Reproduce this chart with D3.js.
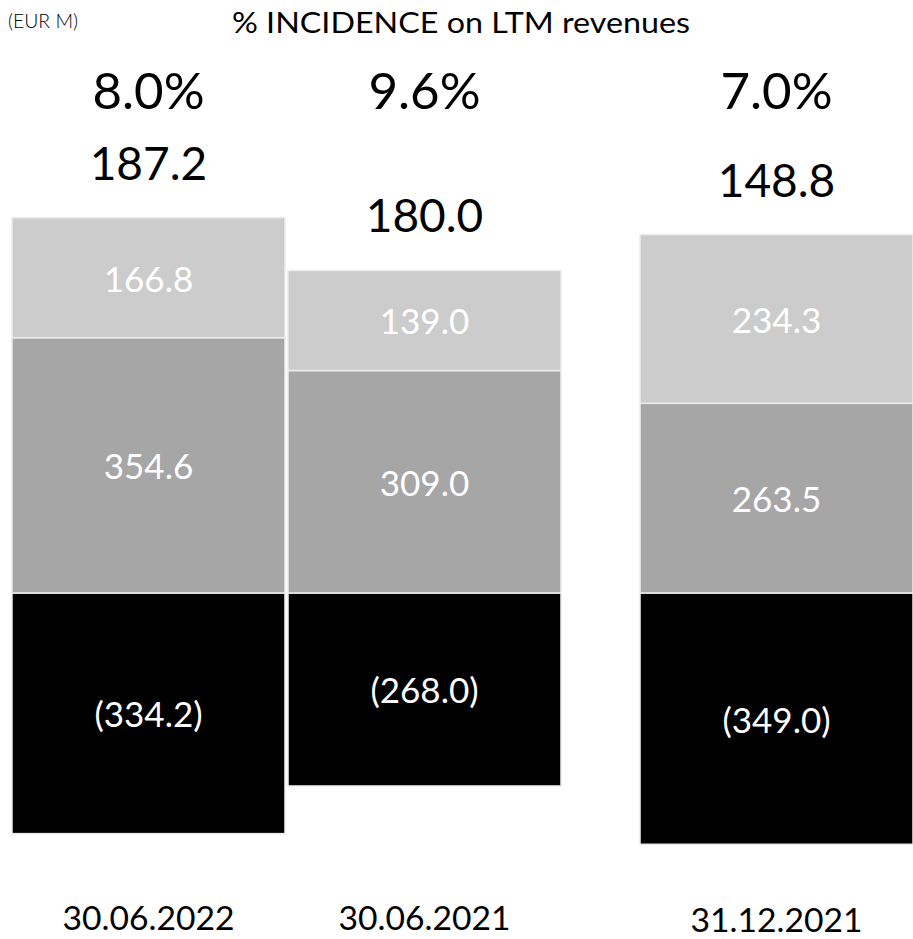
<!DOCTYPE html>
<html>
<head>
<meta charset="utf-8">
<script src="https://cdn.jsdelivr.net/npm/d3@7"></script>
<style>
  html, body { margin: 0; padding: 0; background: #ffffff; }
  svg { display: block; font-family: Lato, "Noto Sans", sans-serif; }
</style>
</head>
<body>
<svg id="chart" width="913" height="939"></svg>
<script>
// Period columns
const periods = ["30.06.2022", "30.06.2021", "31.12.2021"];
// Stack components (EUR M): positive components stacked up from zero, the negative one hangs below
const upperComponent = [166.8, 139.0, 234.3];
const middleComponent = [354.6, 309.0, 263.5];
const negativeComponent = [-334.2, -268.0, -349.0];
// Net totals and incidence on LTM revenues
const netTotals = [187.2, 180.0, 148.8];
const incidence = ["8.0%", "9.6%", "7.0%"];

const svg = d3.select("#chart");
const fmt = d3.format(".1f");
const fmtSigned = v => v < 0 ? "(" + fmt(-v) + ")" : fmt(v);

const rows = periods.map((p, i) => ({
  period: p,
  upper: upperComponent[i],
  middle: middleComponent[i],
  negative: negativeComponent[i],
  total: netTotals[i],
  pct: incidence[i],
  idx: i
}));

// Horizontal layout: first two columns side by side, third one set apart
const groupGap = 76;
const xBand = d3.scaleBand()
  .domain(periods)
  .range([12, 837])
  .paddingInner(0.011)
  .paddingOuter(0);
const xPos = d => xBand(d.period) + (d.idx >= 2 ? groupGap : 0);
const bw = xBand.bandwidth();

const y = d3.scaleLinear().domain([-400, 500]).range([881, 233]);

// Segments as [y0, y1] value pairs
const segments = [];
rows.forEach(d => {
  segments.push({ row: d, kind: "negative", v0: d.negative, v1: 0, value: d.negative });
  segments.push({ row: d, kind: "middle", v0: 0, v1: d.middle, value: d.middle });
  segments.push({ row: d, kind: "upper", v0: d.middle, v1: d.middle + d.upper, value: d.upper });
});
const fills = { upper: "#cccccc", middle: "#a6a6a6", negative: "#000000" };

const bars = svg.append("g").attr("class", "bars");
bars.selectAll("rect")
  .data(segments)
  .join("rect")
  .attr("x", s => xPos(s.row))
  .attr("width", bw)
  .attr("y", s => y(Math.max(s.v0, s.v1)))
  .attr("height", s => Math.abs(y(s.v0) - y(s.v1)))
  .attr("fill", s => fills[s.kind])
  .attr("stroke", "#ececec")
  .attr("stroke-width", 1.5);

// Values inside segments
bars.selectAll("text")
  .data(segments)
  .join("text")
  .attr("x", s => xPos(s.row) + bw / 2)
  .attr("y", s => (y(s.v0) + y(s.v1)) / 2)
  .attr("text-anchor", "middle")
  .attr("dominant-baseline", "central")
  .attr("fill", "#ffffff")
  .attr("font-size", 35)
  .text(s => fmtSigned(s.value));

// Net total above each column
svg.append("g").selectAll("text")
  .data(rows)
  .join("text")
  .attr("x", d => xPos(d) + bw / 2)
  .attr("y", d => y(d.middle + d.upper) - 38)
  .attr("text-anchor", "middle")
  .attr("font-size", 46)
  .attr("fill", "#000")
  .text(d => fmt(d.total));

// Incidence percentages
svg.append("g").selectAll("text")
  .data(rows)
  .join("text")
  .attr("x", d => xPos(d) + bw / 2)
  .attr("y", 109)
  .attr("text-anchor", "middle")
  .attr("font-size", 51)
  .attr("fill", "#000")
  .text(d => d.pct);

// Period labels
svg.append("g").selectAll("text")
  .data(rows)
  .join("text")
  .attr("x", d => xPos(d) + bw / 2)
  .attr("y", d => d.idx >= 2 ? 932 : 930)
  .attr("text-anchor", "middle")
  .attr("font-size", 33)
  .attr("textLength", 172)
  .attr("lengthAdjust", "spacingAndGlyphs")
  .attr("fill", "#000")
  .text(d => d.period);

// Header
svg.append("text")
  .attr("x", 8).attr("y", 28)
  .attr("font-size", 19)
  .attr("font-weight", 300)
  .attr("textLength", 70)
  .attr("lengthAdjust", "spacingAndGlyphs")
  .attr("fill", "#000")
  .text("(EUR M)");

svg.append("text")
  .attr("x", 461).attr("y", 33)
  .attr("text-anchor", "middle")
  .attr("font-size", 29)
  .attr("textLength", 458)
  .attr("lengthAdjust", "spacingAndGlyphs")
  .attr("fill", "#000")
  .text("% INCIDENCE on LTM revenues");
</script>
</body>
</html>
